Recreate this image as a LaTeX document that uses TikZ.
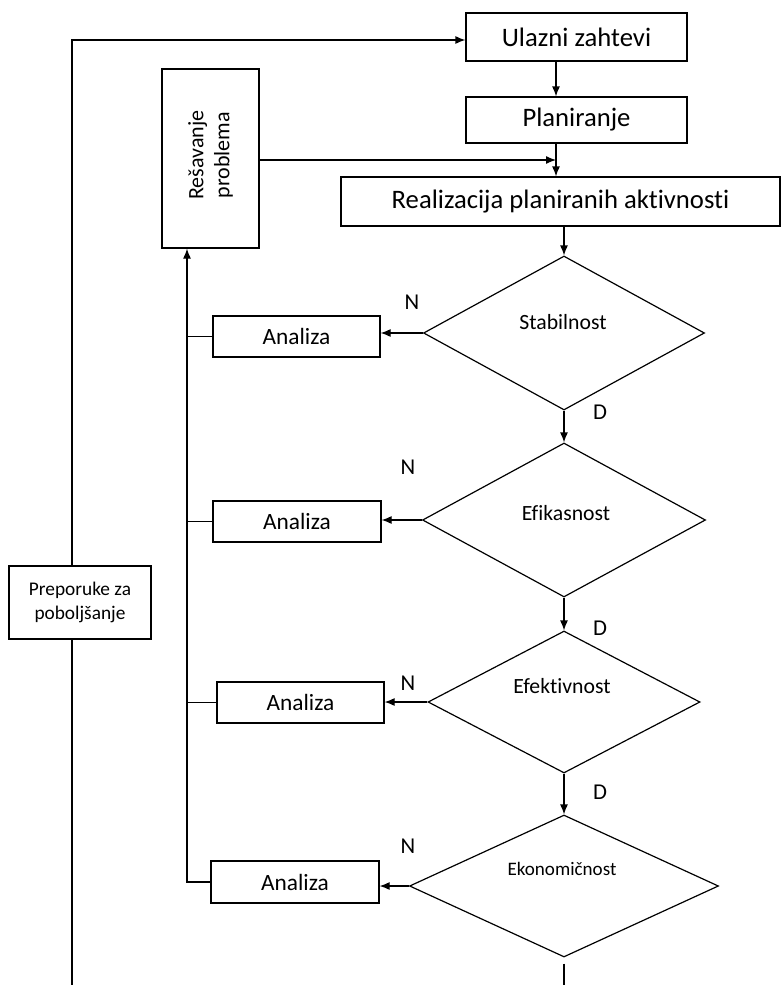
\documentclass[tikz,border=0pt]{standalone}
\usepackage{fontspec}
\setmainfont{Carlito}[Ligatures=NoCommon]
\usetikzlibrary{shapes.geometric,arrows.meta,calc}
\tikzset{
  bx/.style 2 args={draw, line width=0.9pt, inner sep=0pt, minimum width=#1*0.75pt, minimum height=#2*0.75pt},
  diam/.style 2 args={draw, diamond, line width=0.9pt, inner sep=0pt, minimum width=#1*0.75pt, minimum height=#2*0.75pt},
  arr/.style={line width=0.9pt, -{Latex[length=7.5pt,width=6pt]}},
  ln/.style={line width=0.9pt},
  big/.style={font=\fontsize{20}{24}\selectfont},
  mid/.style={font=\fontsize{17.5}{21}\selectfont},
  dtxt/.style={font=\fontsize{16.3}{19}\selectfont},
  sml/.style={font=\fontsize{14.5}{18}\selectfont, align=center},
  lbl/.style={font=\fontsize{17}{20}\selectfont}
}
\begin{document}
\begin{tikzpicture}[x=0.75pt,y=-0.75pt]
\useasboundingbox (0,0) rectangle (781,985);
% main boxes
\node[bx={221}{48}, big] (ul) at (576.5,37) {Ulazni zahtevi};
\node[bx={221}{46}, big] (pl) at (576.5,120) {Planiranje};
\node[bx={439}{49}, big] (re) at (560.5,201.5) {Realizacija planiranih aktivnosti};
\node[bx={97}{179}] (rp) at (210.5,158.5) {};
\node[rotate=90, align=center, font=\fontsize{16.5}{19.5}\selectfont] (rpt) at (210.5,155) {Rešavanje\\problema};
\node[bx={142}{73}, sml] (pp) at (80,602.5) {Preporuke za\\poboljšanje};
% diamonds
\node[diam={281}{154}] (d1) at (564,333) {};
\node[dtxt] (d1t) at (563,322) {Stabilnost};
\node[diam={283}{154}] (d2) at (564,520) {};
\node[dtxt] (d2t) at (566,513) {Efikasnost};
\node[diam={272}{142}] (d3) at (564,702) {};
\node[dtxt] (d3t) at (562,686) {Efektivnost};
\node[diam={309}{142}] (d4) at (564,886) {};
\node[font=\fontsize{14.3}{17}\selectfont] (d4t) at (562,869) {Ekonomičnost};
% analiza boxes
\node[bx={167}{41}, mid] (a1) at (296.5,336.5) {Analiza};
\node[bx={168}{41}, mid] (a2) at (297,521.5) {Analiza};
\node[bx={167}{41}, mid] (a3) at (300.5,702.5) {Analiza};
\node[bx={168}{42}, mid] (a4) at (295,882) {Analiza};
% labels
\node[lbl] (n1) at (412,302) {N};
\node[lbl] (n2) at (408,467) {N};
\node[lbl] (n3) at (408,683) {N};
\node[lbl] (n4) at (408,846) {N};
\node[lbl] (dd1) at (600,412) {D};
\node[lbl] (dd2) at (600,628) {D};
\node[lbl] (dd3) at (600,792) {D};
% helper coordinates
\coordinate (ax) at (556,0);
\coordinate (ox) at (72,0);
\coordinate (otop) at (72,40);
\coordinate (obot) at (72,985);
\coordinate (ix) at (187,0);
\coordinate (icorner) at (187,882);
\coordinate (ebot) at (564,985);
% top flow
\draw[arr] (ul.south -| ax) -- (pl.north -| ax);
\draw[arr] (pl.south -| ax) -- (re.north -| ax);
\draw[arr] (rp.east |- 0,160) -- (ax |- 0,160);
\draw[arr] (re.south -| d1) -- (d1.north);
\draw[arr] (d1.south) -- (d2.north);
\draw[arr] (d2.south) -- (d3.north);
\draw[arr] (d3.south) -- (d4.north);
\draw[ln] (d4.south) ++(0,6) -- (ebot);
% N arrows
\draw[arr] (d1.west) -- (d1.west -| a1.east);
\draw[arr] (d2.west) -- (d2.west -| a2.east);
\draw[arr] (d3.west) -- (d3.west -| a3.east);
\draw[arr] (d4.west) -- (d4.west -| a4.east);
% inner feedback
\draw[arr] (a4.west) -- (icorner) -- (ix |- rp.south);
\draw[ln] (a1.west) -- (ix |- a1.west);
\draw[ln] (a2.west) -- (ix |- a2.west);
\draw[ln] (a3.west) -- (ix |- a3.west);
% outer feedback
\draw[arr] (pp.north -| ox) -- (otop) -- (otop -| ul.west);
\draw[ln] (pp.south -| ox) -- (obot);
\end{tikzpicture}
\end{document}
